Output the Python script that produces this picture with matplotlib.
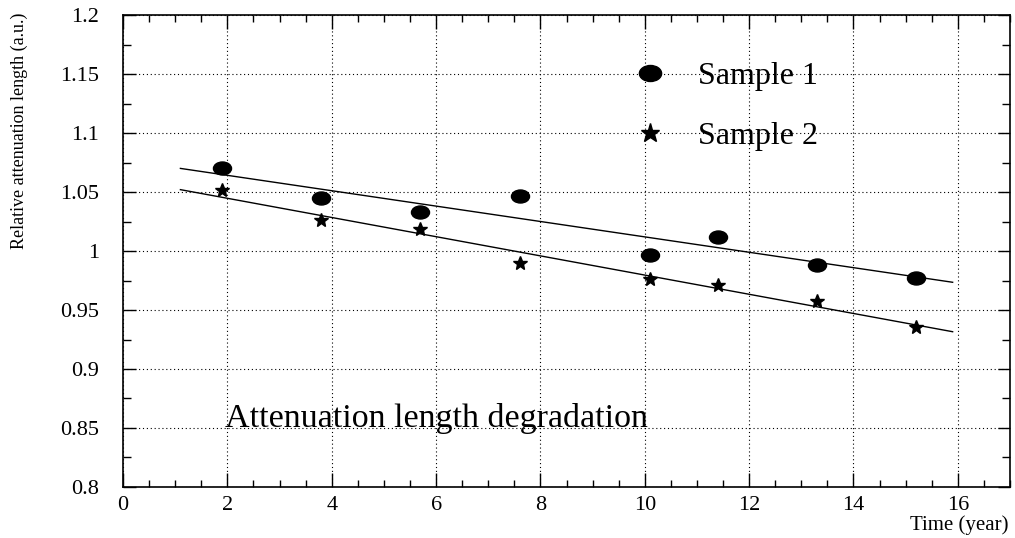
import matplotlib
matplotlib.use("Agg")
import matplotlib.pyplot as plt
from matplotlib.lines import Line2D
from matplotlib.path import Path
from matplotlib.ticker import MultipleLocator
from matplotlib.transforms import Affine2D

plt.rcParams["font.family"] = ["Liberation Serif", "DejaVu Serif"]

# measurements (time in years, relative attenuation length)
years = [1.9, 3.8, 5.7, 7.6, 10.1, 11.4, 13.3, 15.2]
sample1 = [1.070, 1.045, 1.033, 1.047, 0.997, 1.012, 0.988, 0.977]
sample2 = [1.052, 1.026, 1.019, 0.990, 0.976, 0.971, 0.958, 0.936]

# straight-line fits, drawn between these years
fit_years = [1.1, 15.9]
fit_sample1 = [1.070, 0.9735]
fit_sample2 = [1.052, 0.9316]

labels = ["Sample 1", "Sample 2"]

# slightly flattened filled circle, like the original marker
ellipse = Path.unit_circle().transformed(Affine2D().scale(1.0, 0.72))

fig = plt.figure(figsize=(10.15, 5.38), dpi=100)
ax = fig.add_axes([0.1212, 0.0948, 0.8739, 0.8773])

ax.plot(fit_years, fit_sample1, color="black", lw=1.0, zorder=2)
ax.plot(fit_years, fit_sample2, color="black", lw=1.0, zorder=2)
ax.plot(years, sample1, ls="none", marker=ellipse, ms=13, color="black", zorder=3)
ax.plot(years, sample2, ls="none", marker="*", ms=10, color="black", zorder=3)

ax.set_xlim(0, 17)
ax.set_ylim(0.8, 1.2)
ax.xaxis.set_major_locator(MultipleLocator(2))
ax.xaxis.set_minor_locator(MultipleLocator(0.5))
ax.yaxis.set_minor_locator(MultipleLocator(0.025))
ax.set_yticks([0.8, 0.85, 0.9, 0.95, 1.0, 1.05, 1.1, 1.15, 1.2])
ax.set_yticklabels(["0.8", "0.85", "0.9", "0.95", "1", "1.05", "1.1", "1.15", "1.2"])

ax.tick_params(which="both", direction="in", top=True, right=True, width=1.0, color="black")
ax.tick_params(axis="x", which="major", length=10, pad=6.5, labelsize=16)
ax.tick_params(axis="x", which="minor", length=5)
ax.tick_params(axis="y", which="major", length=9, pad=17, labelsize=16)
ax.tick_params(axis="y", which="minor", length=6)
for s in ax.spines.values():
    s.set_linewidth(1.2)

ax.grid(True, which="major", color="black", lw=0.8, ls=(0, (1, 2.5)))
ax.set_axisbelow(True)

ax.set_xlabel("Time (year)", loc="right", fontsize=15)
ax.xaxis.set_label_coords(0.998, -0.059)
ax.set_ylabel("Relative attenuation length (a.u.)", loc="top", fontsize=13)
ax.yaxis.set_label_coords(-0.107, 1.004)

ax.text(0.115, 0.127, "Attenuation length degradation", transform=ax.transAxes,
        fontsize=24.5, va="baseline", ha="left")

handles = [
    Line2D([], [], ls="none", marker=ellipse, ms=16, color="black"),
    Line2D([], [], ls="none", marker="*", ms=14, color="black"),
]
ax.legend(handles, labels, loc="upper left", bbox_to_anchor=(0.547, 0.955),
          frameon=False, fontsize=23, handlelength=1.0, handletextpad=1.0,
          labelspacing=0.95, borderpad=0.3)

fig.savefig("out.png", dpi=100)
